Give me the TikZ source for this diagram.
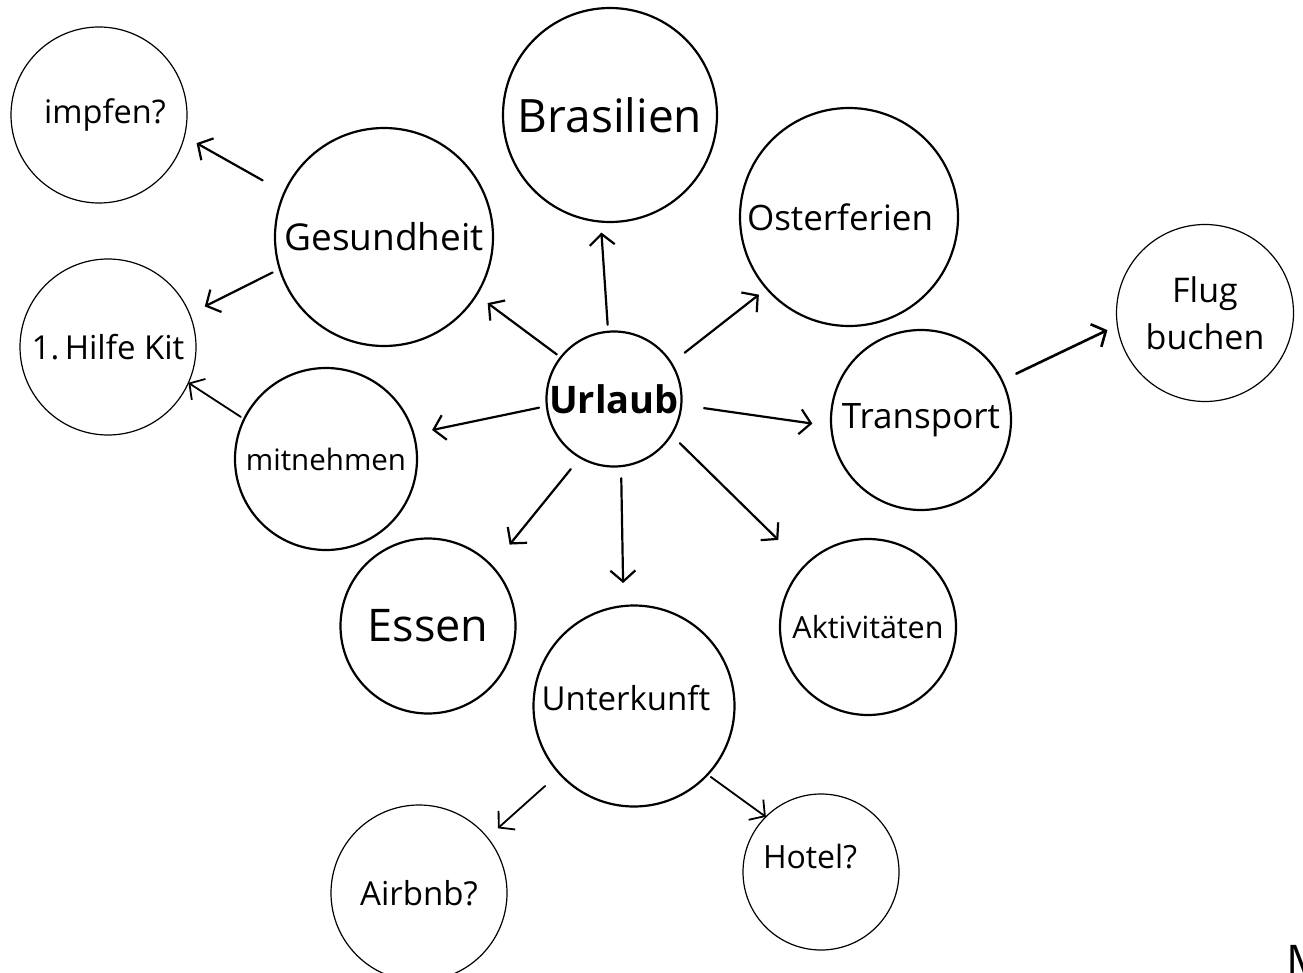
\documentclass[tikz,border=0pt]{standalone}
\usepackage{fontspec}
\setmainfont{Open Sans}
\usetikzlibrary{arrows.meta}
\newcommand{\txtsize}[2]{\fontsize{#1}{#2}\selectfont}
\tikzstyle{topicNode}=[draw,circle,line width=2.2pt,inner sep=0pt,outer sep=0pt]
\tikzstyle{ideaNode}=[draw,circle,line width=1.2pt,inner sep=0pt,outer sep=0pt]
\tikzstyle{branchArrow}=[-{Straight Barb[length=11pt,width=25pt]}, line width=2.2pt, line cap=round]

\begin{document}
\begin{tikzpicture}[x=1pt,y=-1pt]
    \useasboundingbox (0,0) rectangle (1303,973);

    % Centre
    \node[topicNode,minimum size=135pt,font=\txtsize{38}{44}\bfseries] (urlaub) at (614,399) {Urlaub};

    % First ring
    \node[topicNode,minimum size=214pt,font=\txtsize{46}{54}] (brasilien) at (610,115) {Brasilien};
    \node[topicNode,minimum size=218pt,label={[xshift=-9pt,font=\txtsize{35}{42}]center:Osterferien}] (oster) at (849,217) {};
    \node[topicNode,minimum size=218pt,font=\txtsize{37}{44}] (gesund) at (384,237) {Gesundheit};
    \node[topicNode,minimum size=180pt,font=\txtsize{35}{42}] (transport) at (921,420) {Transport};
    \node[topicNode,minimum size=182pt,font=\txtsize{29.5}{34}] (mitnehmen) at (326,459) {mitnehmen};
    \node[topicNode,minimum size=175pt,font=\txtsize{45}{54}] (essen) at (428,626) {Essen};
    \node[topicNode,minimum size=176pt,font=\txtsize{30.5}{35}] (aktiv) at (868,627) {Aktivit\"aten};
    \node[topicNode,minimum size=201pt,label={[xshift=-8pt,yshift=8pt,font=\txtsize{33}{40}]center:Unterkunft}] (unterkunft) at (634,706) {};

    % Second ring
    \node[ideaNode,minimum size=176pt,font=\txtsize{32.5}{38}] (impfen) at (99,115) {\hspace{12pt}impfen?};
    \node[ideaNode,minimum size=176pt,font=\txtsize{33}{40}] (hilfe) at (108,347) {1.\,Hilfe Kit};
    \node[ideaNode,minimum size=177pt,align=center,font=\txtsize{34}{47}] (flug) at (1205,313) {Flug\\buchen};
    \node[ideaNode,minimum size=176pt,font=\txtsize{33}{40}] (airbnb) at (419,893) {Airbnb?};
    \node[ideaNode,minimum size=156pt,label={[xshift=-11pt,yshift=15pt,font=\txtsize{32}{38}]center:Hotel?}] (hotel) at (821,872) {};

    % Cut-off letter
    \node[anchor=base west,inner sep=0pt,font=\txtsize{45}{54}] (cutM) at (1286,977) {M};

    % Arrows from the centre
    \draw[branchArrow,shorten <=7pt,shorten >=11pt] (urlaub.95) -- (brasilien.265);
    \draw[branchArrow,shorten <=5pt,shorten >=14pt] (urlaub.142) -- (gesund.-32);
    \draw[branchArrow,shorten <=17pt,shorten >=10pt] (urlaub.32) -- (oster.221);
    \draw[branchArrow,shorten <=8pt,shorten >=19pt] (urlaub.186) -- (mitnehmen.16);
    \draw[branchArrow,shorten <=23pt,shorten >=19pt] (urlaub.-5) -- (transport.184);
    \draw[branchArrow,shorten <=15pt,shorten >=28pt] (urlaub.240) -- (essen.43);
    \draw[branchArrow,shorten <=12pt,shorten >=23pt] (urlaub.276) -- (unterkunft.96);
    \draw[branchArrow,shorten <=12pt,shorten >=37pt] (urlaub.-32) -- (aktiv.136);

    % Arrows to the second ring
    \draw[branchArrow,shorten <=25pt,shorten >=14pt] (gesund.156) -- (impfen.-14);
    \draw[branchArrow,shorten <=8pt,shorten >=17pt] (gesund.197) -- (hilfe.22);
    \draw[branchArrow,line width=1.8pt,shorten <=4pt] (mitnehmen.154) -- (hilfe.-24);
    \draw[branchArrow,line width=2.6pt,shorten <=16pt,shorten >=11pt] (transport.26) -- (flug.188);
    \draw[branchArrow,line width=1.8pt,shorten <=19pt,shorten >=14pt] (unterkunft.222) -- (airbnb.39);
    \draw[branchArrow,line width=1.8pt,shorten <=4pt] (unterkunft.-43) -- (hotel.135);
\end{tikzpicture}
\end{document}
